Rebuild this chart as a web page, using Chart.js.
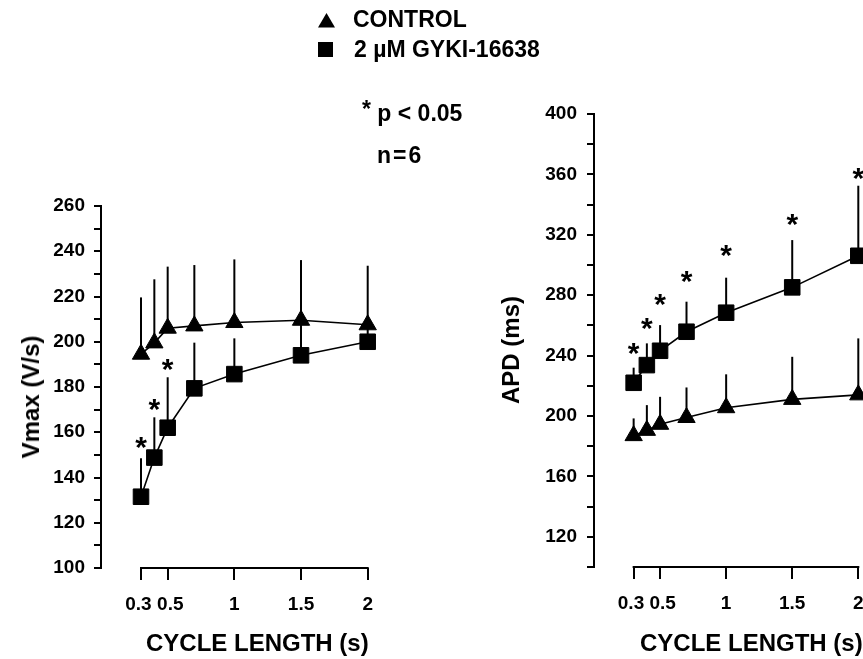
<!DOCTYPE html>
<html><head><meta charset="utf-8">
<script src="https://cdn.jsdelivr.net/npm/chart.js@4.4.1/dist/chart.umd.min.js"></script>
<style>
html,body{margin:0;padding:0;width:863px;height:659px;overflow:hidden;background:#fff;}
canvas{position:absolute;top:0;}
.t{position:absolute;font-family:"Liberation Sans",Arial,sans-serif;font-weight:bold;color:#000;white-space:nowrap;line-height:1;}
.f23{font-size:23px;line-height:23px;}
.f24{font-size:24px;line-height:24px;}
.rot{transform:translate(-50%,-50%) rotate(-90deg);}
</style></head><body>
<canvas id="cl" width="440" height="659" style="left:0"></canvas>
<canvas id="cr" width="430" height="659" style="left:470px"></canvas>

<div class="t" style="left:318px;top:13px;width:17px;height:14.5px;background:#000;clip-path:polygon(50% 0,100% 100%,0 100%);"></div>
<div class="t f23" style="left:353px;top:8px;">CONTROL</div>
<div class="t" style="left:318px;top:41.5px;width:15px;height:15px;background:#000;"></div>
<div class="t f23" style="left:354px;top:37.5px;">2 µM GYKI-16638</div>
<div class="t f23" style="left:362px;top:102px;"><span style="position:relative;top:-4px;">*</span> p &lt; 0.05</div>
<div class="t f23" style="left:377px;top:144px;letter-spacing:2px;">n=6</div>
<div class="t f24" style="left:146px;top:631px;">CYCLE LENGTH (s)</div>
<div class="t f24" style="left:640px;top:631px;">CYCLE LENGTH (s)</div>
<div class="t f24 rot" style="left:31px;top:397px;">Vmax (V/s)</div>
<div class="t f24 rot" style="left:511px;top:350px;">APD (ms)</div>

<script>
// ---- data ----
const cycleLength = [0.3, 0.4, 0.5, 0.7, 1, 1.5, 2];

const vmaxControl    = [194.5, 199.5, 206, 207, 208.5, 209.5, 207.5];
const vmaxControlErr = [219.6, 227.6, 233.2, 233.9, 236.4, 236.1, 233.6];   // top of SEM bar
const vmaxGyki       = [131.5, 148.8, 162, 179.4, 185.7, 194, 200];
const vmaxGykiErr    = [148.5, 166.6, 184.3, 199.6, 201.5, 208, 206];
const vmaxGykiSig    = [156.6, 173.4, 191.2, null, null, null, null];       // level of "*"

const apdControl    = [187, 190.5, 194.5, 199, 205.5, 211, 214];
const apdControlErr = [198.4, 207.2, 212.7, 218.9, 227.6, 239.2, 251.4];
const apdGyki       = [222, 233.7, 243.2, 255.8, 268.4, 285.2, 306.1];
const apdGykiErr    = [232, 248.1, 260.2, 275.7, 291.6, 316.5, 352.5];
const apdGykiSig    = [246.3, 262.9, 278.8, 294.0, 311.2, 332.0, 362.2];

const cycleTicks      = [0.3, 0.5, 1, 1.5, 2];
const cycleTickLabels = ['0.3 ', ' 0.5', '1', '1.5', '2'];
const vmaxTicks       = [100, 110, 120, 130, 140, 150, 160, 170, 180, 190, 200, 210, 220, 230, 240, 250, 260];
const vmaxTickLabels  = ['100', '', '120', '', '140', '', '160', '', '180', '', '200', '', '220', '', '240', '', '260'];
const apdTicks        = [100, 120, 140, 160, 180, 200, 220, 240, 260, 280, 300, 320, 340, 360, 380, 400];
const apdTickLabels   = ['', '120', '', '160', '', '200', '', '240', '', '280', '', '320', '', '360', '', '400'];

const seriesNames = ['CONTROL', '2 µM GYKI-16638'];

// ---- rendering ----
const FONT = '"Liberation Sans", Arial, sans-serif';
Chart.defaults.font.family = FONT;

const extrasPlugin = {
  id: 'extras',
  beforeDatasetsDraw(chart) {
    const ctx = chart.ctx, xs = chart.scales.x, ys = chart.scales.y;
    ctx.save();
    ctx.strokeStyle = '#000'; ctx.lineWidth = 2; ctx.lineCap = 'butt';
    chart.data.datasets.forEach(ds => {
      if (!ds.errTop) return;
      ds.data.forEach((p, i) => {
        const x = xs.getPixelForValue(p.x);
        ctx.beginPath();
        ctx.moveTo(x, ys.getPixelForValue(p.y));
        ctx.lineTo(x, ys.getPixelForValue(ds.errTop[i]));
        ctx.stroke();
      });
    });
    // detached x axis line from first to last tick
    const yb = ys.getPixelForValue(ys.min);
    ctx.beginPath();
    ctx.moveTo(xs.getPixelForValue(cycleTicks[0]) - 1, yb);
    ctx.lineTo(xs.getPixelForValue(cycleTicks[cycleTicks.length - 1]) + 1, yb);
    ctx.stroke();
    ctx.restore();
  },
  afterDatasetsDraw(chart) {
    const ctx = chart.ctx, xs = chart.scales.x, ys = chart.scales.y;
    ctx.save();
    ctx.fillStyle = '#000';
    ctx.font = 'bold 30px ' + FONT;
    ctx.textAlign = 'center';
    ctx.textBaseline = 'alphabetic';
    chart.data.datasets.forEach(ds => {
      if (!ds.sig) return;
      ds.data.forEach((p, i) => {
        if (ds.sig[i] == null) return;
        ctx.fillText('*', xs.getPixelForValue(p.x), ys.getPixelForValue(ds.sig[i]) + 0.58 * 30);
      });
    });
    ctx.restore();
  }
};

function pts(ys) { return cycleLength.map((x, i) => ({ x: x, y: ys[i] })); }

function makeDatasets(ctrl, ctrlErr, gyki, gykiErr, gykiSig) {
  return [
    { label: seriesNames[0], data: pts(ctrl), errTop: ctrlErr, sig: null,
      borderColor: '#000', backgroundColor: '#000', borderWidth: 1.6,
      pointStyle: 'triangle', pointRadius: 10, pointBorderWidth: 1, pointBackgroundColor: '#000',
      tension: 0, clip: false },
    { label: seriesNames[1], data: pts(gyki), errTop: gykiErr, sig: gykiSig,
      borderColor: '#000', backgroundColor: '#000', borderWidth: 1.6,
      pointStyle: 'rect', pointRadius: 11, pointBorderWidth: 1, pointBackgroundColor: '#000',
      tension: 0, clip: false }
  ];
}

function makeOptions(yMin, yMax, yTicks, yTickLabels, yWidth, padTop, padRight, xHeight, yPad) {
  const tickFont = { family: FONT, size: 19, weight: 'bold' };
  return {
    responsive: false, animation: false, events: [],
    layout: { padding: { top: padTop, right: padRight, left: 0, bottom: 0 } },
    plugins: { legend: { display: false }, tooltip: { enabled: false } },
    scales: {
      x: {
        type: 'linear', min: 0, max: 2,
        border: { display: false },
        grid: { drawOnChartArea: false, drawTicks: true, tickLength: 12, lineWidth: 2, color: '#000' },
        ticks: { autoSkip: false, maxRotation: 0, padding: 13, color: '#000', font: tickFont,
                 callback: (v, i) => cycleTickLabels[i] },
        afterBuildTicks: s => { s.ticks = cycleTicks.map(v => ({ value: v })); },
        afterFit: s => { s.height = xHeight; s.paddingLeft = 0; s.paddingRight = 0; }
      },
      y: {
        type: 'linear', min: yMin, max: yMax,
        border: { display: true, color: '#000', width: 2 },
        grid: { drawOnChartArea: false, drawTicks: true, tickLength: 7, lineWidth: 2, color: '#000' },
        ticks: { autoSkip: false, padding: yPad, color: '#000', font: tickFont,
                 callback: (v, i) => yTickLabels[i] },
        afterBuildTicks: s => { s.ticks = yTicks.map(v => ({ value: v })); },
        afterFit: s => { s.width = yWidth; s.paddingTop = 0; s.paddingBottom = 0; }
      }
    }
  };
}

new Chart(document.getElementById('cl'), {
  type: 'line',
  data: { datasets: makeDatasets(vmaxControl, vmaxControlErr, vmaxGyki, vmaxGykiErr, vmaxGykiSig) },
  options: makeOptions(100, 260, vmaxTicks, vmaxTickLabels, 101, 206, 72.3, 91, 9),
  plugins: [extrasPlugin]
});

new Chart(document.getElementById('cr'), {
  type: 'line',
  data: { datasets: makeDatasets(apdControl, apdControlErr, apdGyki, apdGykiErr, apdGykiSig) },
  options: makeOptions(100, 400, apdTicks, apdTickLabels, 124, 114, 41.7, 92, 10),
  plugins: [extrasPlugin]
});
</script>
</body></html>
